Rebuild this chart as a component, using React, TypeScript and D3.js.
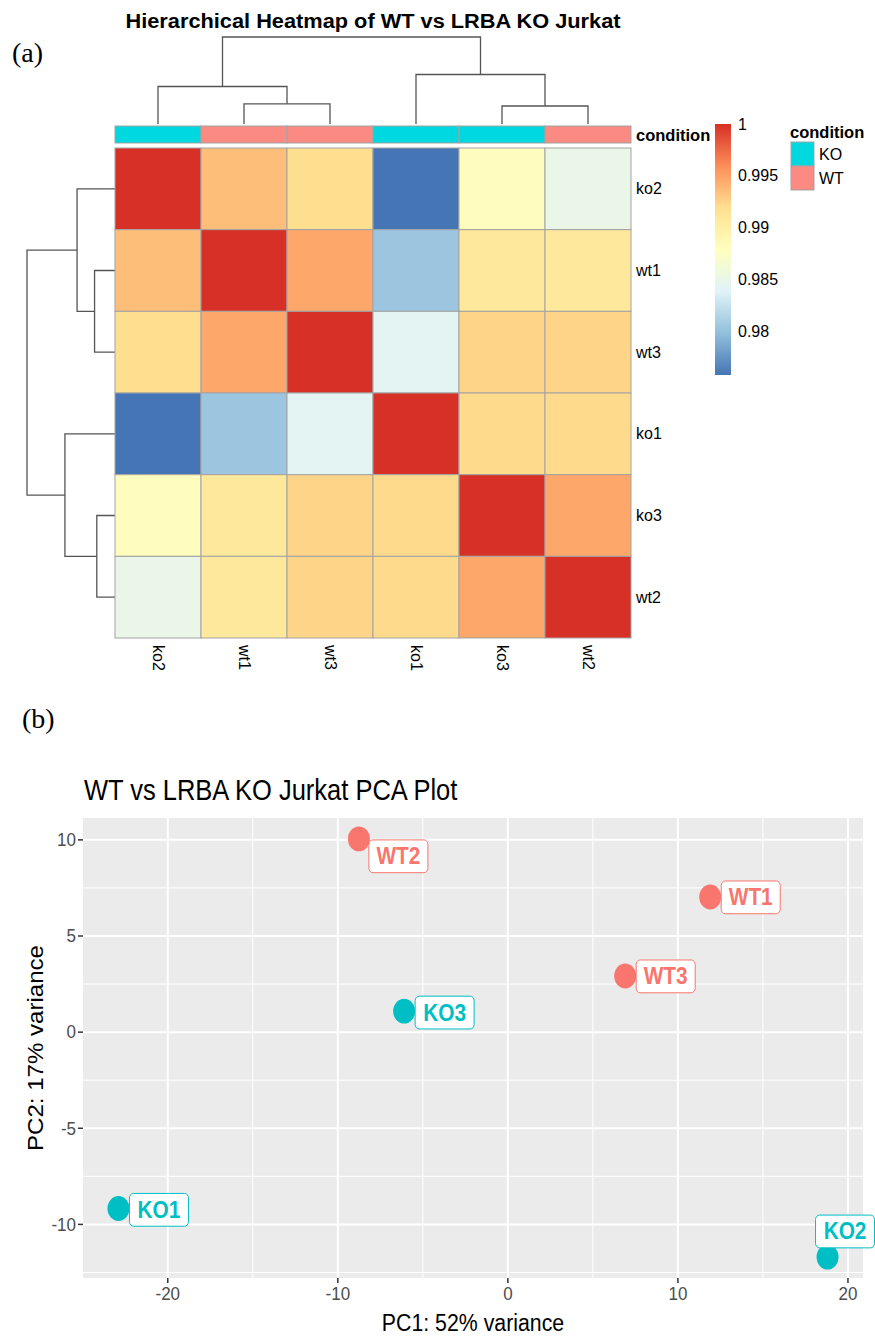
import React from 'react';
import * as d3 from 'd3';

// ---- heatmap data (sample order as clustered) ----
const samples = ['ko2', 'wt1', 'wt3', 'ko1', 'ko3', 'wt2'];
const sampleCondition = ['KO', 'WT', 'WT', 'KO', 'KO', 'WT'];
const corr = [
  [1, 0.9936, 0.992, 0.9758, 0.9881, 0.985],
  [0.9936, 1, 0.9947, 0.9804, 0.9909, 0.9909],
  [0.992, 0.9947, 1, 0.9843, 0.9925, 0.9925],
  [0.9758, 0.9804, 0.9843, 1, 0.9922, 0.9922],
  [0.9881, 0.9909, 0.9925, 0.9922, 1, 0.9947],
  [0.985, 0.9909, 0.9925, 0.9922, 0.9947, 1],
];
const legendTicks = [0.98, 0.985, 0.99, 0.995, 1];
const conditions = ['KO', 'WT'];

type Clust = { name?: string; height: number; children?: Clust[] };
// hclust merge heights
const tree: Clust = {
  height: 0.087,
  children: [
    {
      height: 0.0375,
      children: [
        { name: 'ko2', height: 0 },
        { height: 0.0202, children: [{ name: 'wt1', height: 0 }, { name: 'wt3', height: 0 }] },
      ],
    },
    {
      height: 0.0495,
      children: [
        { name: 'ko1', height: 0 },
        { height: 0.018, children: [{ name: 'ko3', height: 0 }, { name: 'wt2', height: 0 }] },
      ],
    },
  ],
};

// ---- PCA data ----
const pcaNames = ['WT1', 'WT2', 'WT3', 'KO1', 'KO2', 'KO3'];
const pcaCondition = ['WT', 'WT', 'WT', 'KO', 'KO', 'KO'];
const pc1 = [11.9, -8.76, 6.9, -22.9, 18.8, -6.1];
const pc2 = [7.03, 10.05, 2.92, -9.17, -11.7, 1.09];
const xTicks = [-20, -10, 0, 10, 20];
const xMinor = [-15, -5, 5, 15];
const yTicks = [-10, -5, 0, 5, 10];
const yMinor = [-12.5, -7.5, -2.5, 2.5, 7.5];

// label placement (ggrepel result), px offsets from point
const labelNudge: [number, number][] = [
  [11, -16],
  [10, 1],
  [11, -16],
  [11, -15],
  [-12, -42],
  [11, -15],
];

const SANS = 'Liberation Sans, Arial, Helvetica, sans-serif';
const SERIF = 'Liberation Serif, Times New Roman, serif';
const palette = ['#4575B4', '#91BFDB', '#E0F3F8', '#FFFFBF', '#FEE090', '#FC8D59', '#D73027'];
const annColor: { [k: string]: string } = { KO: '#00D8DF', WT: '#FA8A82' };
const pcaColor: { [k: string]: string } = { KO: '#00BFC4', WT: '#F8766D' };
const BORDER = '#a3a3a3';
const DENDRO = '#555555';

const Heatmap = () => {
  const xBand = d3.scaleBand().domain(samples).range([115, 631]);
  const yBand = d3.scaleBand().domain(samples).range([148, 638]);
  const vmin = d3.min(corr.flat()) as number;
  const vmax = d3.max(corr.flat()) as number;
  const color = d3
    .scaleLinear<string>()
    .domain(palette.map((_, i) => vmin + (i * (vmax - vmin)) / (palette.length - 1)))
    .range(palette)
    .interpolate(d3.interpolateRgb);

  const maxH = tree.height;
  const topH = d3.scaleLinear().domain([0, maxH]).range([124, 37]);
  const leftH = d3.scaleLinear().domain([0, maxH]).range([115, 27]);

  const root = d3.hierarchy(tree);
  const pos = (n: d3.HierarchyNode<Clust>): number => {
    if (!n.children) return samples.indexOf(n.data.name as string);
    return (pos(n.children[0]) + pos(n.children[1])) / 2;
  };
  const colC = (p: number) => (xBand(samples[0]) as number) + xBand.bandwidth() * (p + 0.5);
  const rowC = (p: number) => (yBand(samples[0]) as number) + yBand.bandwidth() * (p + 0.5);

  const topSegs: string[] = [];
  const leftSegs: string[] = [];
  root.each((n) => {
    if (!n.children) return;
    const [a, b] = n.children;
    const pa = pos(a);
    const pb = pos(b);
    const hn = n.data.height;
    topSegs.push(
      `M${colC(pa)},${topH(a.data.height)}V${topH(hn)}H${colC(pb)}V${topH(b.data.height)}`
    );
    leftSegs.push(
      `M${leftH(a.data.height)},${rowC(pa)}H${leftH(hn)}V${rowC(pb)}H${leftH(b.data.height)}`
    );
  });

  const legY = d3.scaleLinear().domain([vmin, vmax]).range([375, 124]);

  return (
    <g fontFamily={SANS}>
      <text x={12} y={62} fontFamily={SERIF} fontSize={28}>
        (a)
      </text>
      <text
        x={373}
        y={28}
        textAnchor="middle"
        fontWeight="bold"
        fontSize={20}
        textLength={495}
        lengthAdjust="spacingAndGlyphs"
      >
        Hierarchical Heatmap of WT vs LRBA KO Jurkat
      </text>
      {topSegs.map((d, i) => (
        <path key={`t${i}`} d={d} fill="none" stroke={DENDRO} strokeWidth={1.3} />
      ))}
      {leftSegs.map((d, i) => (
        <path key={`l${i}`} d={d} fill="none" stroke={DENDRO} strokeWidth={1.3} />
      ))}
      {/* annotation bar */}
      {samples.map((s, i) => (
        <rect
          key={`a${s}`}
          x={xBand(s)}
          y={126}
          width={xBand.bandwidth()}
          height={17}
          fill={annColor[sampleCondition[i]]}
          stroke={BORDER}
          strokeWidth={1}
        />
      ))}
      <text x={636} y={135} dominantBaseline="central" fontWeight="bold" fontSize={16.5}>
        condition
      </text>
      {/* cells */}
      {corr.map((row, r) =>
        row.map((v, c) => (
          <rect
            key={`c${r}-${c}`}
            x={xBand(samples[c])}
            y={yBand(samples[r])}
            width={xBand.bandwidth()}
            height={yBand.bandwidth()}
            fill={color(v)}
            stroke={BORDER}
            strokeWidth={1}
          />
        ))
      )}
      {samples.map((s) => (
        <text
          key={`r${s}`}
          x={636}
          y={(yBand(s) as number) + yBand.bandwidth() / 2}
          dominantBaseline="central"
          fontSize={16}
        >
          {s}
        </text>
      ))}
      {samples.map((s) => (
        <text
          key={`x${s}`}
          transform={`translate(${(xBand(s) as number) + xBand.bandwidth() / 2},645) rotate(90)`}
          dominantBaseline="central"
          fontSize={16}
        >
          {s}
        </text>
      ))}
      {/* color legend */}
      <defs>
        <linearGradient id="corrGrad" x1="0" y1="1" x2="0" y2="0">
          {palette.map((p, i) => (
            <stop key={p} offset={i / (palette.length - 1)} stopColor={p} />
          ))}
        </linearGradient>
      </defs>
      <rect x={715} y={legY(vmax)} width={16} height={legY(vmin) - legY(vmax)} fill="url(#corrGrad)" />
      {legendTicks.map((t) => (
        <text key={`lg${t}`} x={738} y={legY(t)} dominantBaseline="central" fontSize={16}>
          {t}
        </text>
      ))}
      {/* condition legend */}
      <text x={790} y={132} dominantBaseline="central" fontWeight="bold" fontSize={16.5}>
        condition
      </text>
      {conditions.map((c, i) => (
        <g key={`cl${c}`}>
          <rect
            x={791}
            y={142 + i * 24}
            width={23}
            height={24}
            fill={annColor[c]}
            stroke={BORDER}
            strokeWidth={1}
          />
          <text x={819} y={154 + i * 24} dominantBaseline="central" fontSize={16}>
            {c}
          </text>
        </g>
      ))}
    </g>
  );
};

const PCA = () => {
  const K = 1.13; // vertical stretch of the figure
  const pad = 0.05;
  const xr = d3.extent(pc1) as [number, number];
  const yr = d3.extent(pc2) as [number, number];
  const xs = d3
    .scaleLinear()
    .domain([xr[0] - (xr[1] - xr[0]) * pad, xr[1] + (xr[1] - xr[0]) * pad])
    .range([83, 863]);
  const ys = d3
    .scaleLinear()
    .domain([yr[0] - (yr[1] - yr[0]) * pad, yr[1] + (yr[1] - yr[0]) * pad])
    .range([1278, 818]);
  const [x0, x1] = xs.range();
  const [yb, yt] = ys.range();
  const st = (x: number, y: number) => `translate(${x},${y}) scale(1,${K})`;

  return (
    <g fontFamily={SANS}>
      <text x={22} y={728} fontFamily={SERIF} fontSize={28}>
        (b)
      </text>
      <text transform={st(84, 800)} fontSize={25.5} fill="#000">
        WT vs LRBA KO Jurkat PCA Plot
      </text>
      <rect x={x0} y={yt} width={x1 - x0} height={yb - yt} fill="#EBEBEB" />
      {xMinor.map((t) => (
        <line key={`xm${t}`} x1={xs(t)} x2={xs(t)} y1={yt} y2={yb} stroke="#fff" strokeWidth={1} />
      ))}
      {yMinor.map((t) => (
        <line key={`ym${t}`} x1={x0} x2={x1} y1={ys(t)} y2={ys(t)} stroke="#fff" strokeWidth={1} />
      ))}
      {xTicks.map((t) => (
        <g key={`xt${t}`}>
          <line x1={xs(t)} x2={xs(t)} y1={yt} y2={yb} stroke="#fff" strokeWidth={2} />
          <line x1={xs(t)} x2={xs(t)} y1={yb} y2={yb + 5} stroke="#333" strokeWidth={1.5} />
          <text transform={st(xs(t), 1300)} textAnchor="middle" fontSize={17} fill="#4D4D4D">
            {t}
          </text>
        </g>
      ))}
      {yTicks.map((t) => (
        <g key={`yt${t}`}>
          <line x1={x0} x2={x1} y1={ys(t)} y2={ys(t)} stroke="#fff" strokeWidth={2} />
          <line x1={x0 - 5} x2={x0} y1={ys(t)} y2={ys(t)} stroke="#333" strokeWidth={1.5} />
          <text
            transform={st(76, ys(t))}
            textAnchor="end"
            dominantBaseline="central"
            fontSize={17}
            fill="#4D4D4D"
          >
            {t}
          </text>
        </g>
      ))}
      <text transform={st((x0 + x1) / 2, 1331)} textAnchor="middle" fontSize={21.3}>
        PC1: 52% variance
      </text>
      <text
        transform={`translate(43,${(yt + yb) / 2}) scale(1,${K}) rotate(-90)`}
        textAnchor="middle"
        fontSize={21.3}
      >
        PC2: 17% variance
      </text>
      {pcaNames.map((n, i) => {
        const c = pcaColor[pcaCondition[i]];
        const px = xs(pc1[i]);
        const py = ys(pc2[i]);
        return (
          <g key={n}>
            <ellipse cx={px} cy={py} rx={11} ry={11 * K} fill={c} />
            <g transform={st(px + labelNudge[i][0], py + labelNudge[i][1])}>
              <rect
                x={0}
                y={0}
                width={59}
                height={29}
                rx={4}
                fill="#fff"
                stroke={c}
                strokeWidth={1}
                vectorEffect="non-scaling-stroke"
              />
              <text
                x={29.5}
                y={14.5}
                textAnchor="middle"
                dominantBaseline="central"
                fontWeight="bold"
                fontSize={20.8}
                fill={c}
              >
                {n}
              </text>
            </g>
          </g>
        );
      })}
    </g>
  );
};

const App = () => (
  <div style={{ position: 'absolute', left: 0, top: 0 }}>
    <svg width={875} height={1338} viewBox="0 0 875 1338" style={{ display: 'block', background: '#fff' }}>
      <Heatmap />
      <PCA />
    </svg>
  </div>
);

export default App;
